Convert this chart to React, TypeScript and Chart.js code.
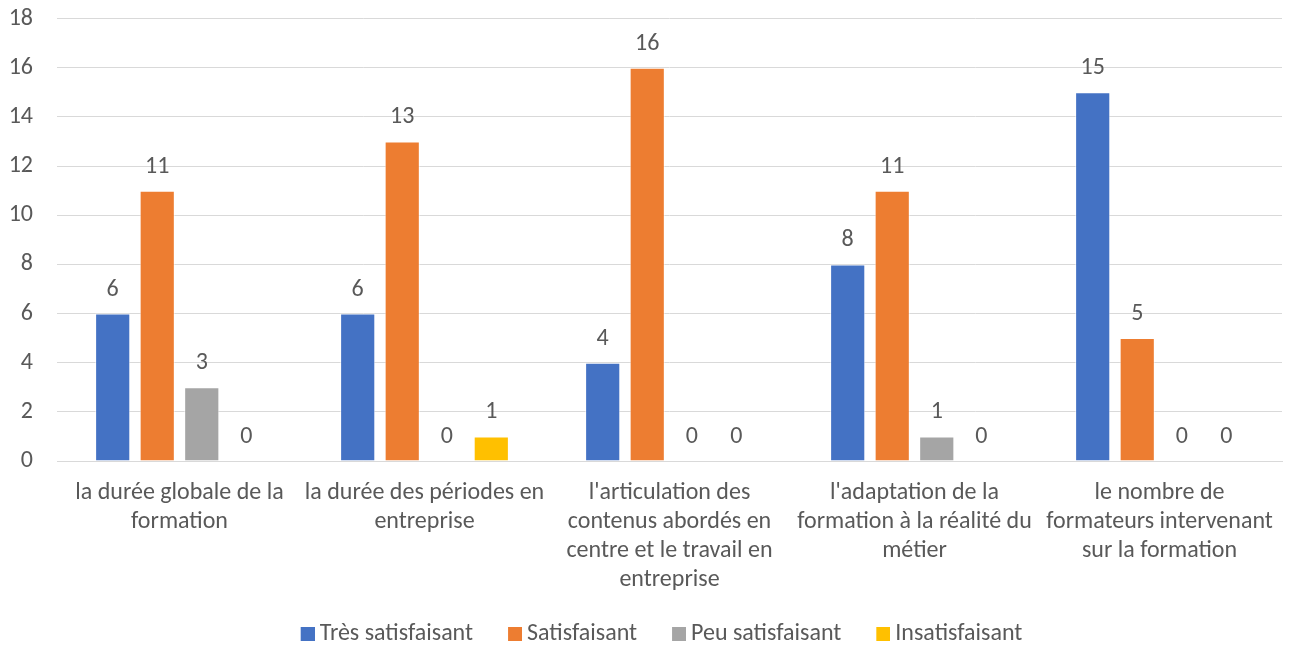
import React, { useEffect, useRef } from "react";
import { Chart, registerables } from "chart.js";

Chart.register(...registerables);

const categories: string[][] = [
  ["la durée globale de la", "formation"],
  ["la durée des périodes en", "entreprise"],
  ["l'articulation des", "contenus abordés en", "centre et le travail en", "entreprise"],
  ["l'adaptation de la", "formation à la réalité du", "métier"],
  ["le nombre de", "formateurs intervenant", "sur la formation"],
];
const tresSatisfaisant = [6, 6, 4, 8, 15];
const satisfaisant = [11, 13, 16, 11, 5];
const peuSatisfaisant = [3, 0, 0, 1, 0];
const insatisfaisant = [0, 1, 0, 0, 0];
const seriesNames = ["Très satisfaisant", "Satisfaisant", "Peu satisfaisant", "Insatisfaisant"];
const seriesColors = ["#4472C4", "#ED7D31", "#A5A5A5", "#FFC000"];

const FONT = "Carlito, Calibri, 'Open Sans', 'Liberation Sans', sans-serif";
const TEXT = "#595959";
const FS = 24;

function makeMarker(color: string): HTMLCanvasElement {
  const c = document.createElement("canvas");
  c.width = 28;
  c.height = 14;
  const g = c.getContext("2d")!;
  g.fillStyle = color;
  g.fillRect(14, 0, 14, 14);
  return c;
}

const labelPlugin = {
  id: "valueLabels",
  afterLayout(chart: any) {
    if (chart.legend) {
      chart.legend.left += 17;
      chart.legend.right += 17;
      chart.legend.top += 10;
      chart.legend.bottom += 10;
    }
    if (chart.scales.x) {
      chart.scales.x.bottom += 30;
    }
  },
  afterDatasetsDraw(chart: any) {
    const ctx = chart.ctx;
    ctx.save();
    ctx.font = `${FS}px ${FONT}`;
    ctx.fillStyle = TEXT;
    ctx.textAlign = "center";
    ctx.textBaseline = "middle";
    chart.data.datasets.forEach((ds: any, i: number) => {
      const meta = chart.getDatasetMeta(i);
      meta.data.forEach((el: any, j: number) => {
        ctx.fillText(String(ds.data[j]), el.x, el.y - 24);
      });
    });
    ctx.restore();
  },
};

export default function App() {
  const ref = useRef<HTMLCanvasElement>(null);
  useEffect(() => {
    document.body.style.margin = "0";
    const data = [tresSatisfaisant, satisfaisant, peuSatisfaisant, insatisfaisant];
    const markers = seriesColors.map(makeMarker);
    const chart = new Chart(ref.current!, {
      type: "bar",
      data: {
        labels: categories,
        datasets: data.map((d, i) => ({
          label: seriesNames[i],
          data: d,
          backgroundColor: seriesColors[i],
          borderColor: "rgba(255,255,255,0.6)",
          borderWidth: 1,
          categoryPercentage: 0.727,
          barPercentage: 0.79,
        })),
      },
      options: {
        responsive: false,
        animation: false,
        layout: { padding: { top: 0, right: 8, left: 0, bottom: 0 } },
        plugins: {
          tooltip: { enabled: false },
          legend: {
            position: "bottom",
            labels: {
              usePointStyle: true,
              pointStyleWidth: 14,
              boxHeight: 14,
              padding: 28,
              color: TEXT,
              font: { family: FONT, size: FS },
              generateLabels(chart: any) {
                const items = Chart.defaults.plugins.legend.labels.generateLabels(chart);
                items.forEach((it: any, i: number) => {
                  it.pointStyle = markers[i];
                });
                return items;
              },
            },
          },
        },
        scales: {
          x: {
            grid: { display: false },
            border: { color: "#D9D9D9" },
            ticks: {
              color: TEXT,
              font: { family: FONT, size: FS, lineHeight: 1.22 },
              maxRotation: 0,
              autoSkip: false,
              padding: 9,
            },
            afterFit(scale: any) {
              scale.height = 123;
            },
          },
          y: {
            min: 0,
            max: 18,
            ticks: {
              stepSize: 2,
              color: TEXT,
              font: { family: FONT, size: FS, lineHeight: 0.55 },
              padding: 12,
            },
            grid: {
              color: "#D9D9D9",
              drawTicks: true,
              tickLength: 12,
              tickColor: "rgba(0,0,0,0)",
            },
            border: { display: false },
            afterFit(scale: any) {
              scale.width = 57;
            },
          },
        },
      },
      plugins: [labelPlugin],
    });
    return () => chart.destroy();
  }, []);
  return <canvas ref={ref} width={1290} height={646} style={{ display: "block" }} />;
}
